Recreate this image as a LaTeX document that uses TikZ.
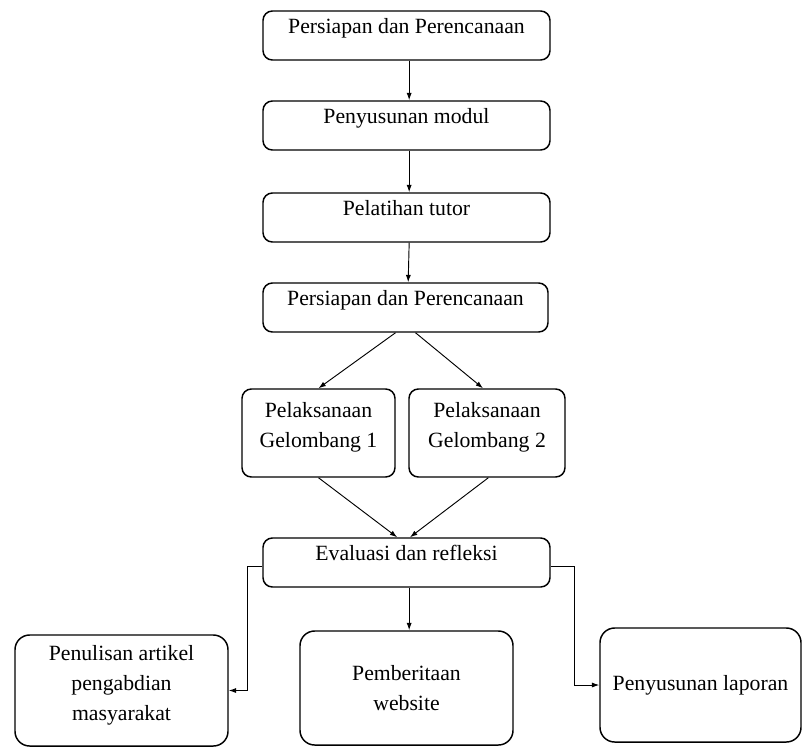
\documentclass[tikz,border=0pt]{standalone}
\usepackage{fontspec}
\setmainfont{Liberation Serif}
\usepackage{tikz}
\usetikzlibrary{shapes, arrows.meta, positioning}

% invisible depth, pushes a box text upwards
\newcommand{\sink}[1]{\rule[-#1]{0pt}{#1}}

\begin{document}
\begin{tikzpicture}[x=0.75pt, y=-0.75pt,
    tahap/.style={draw, line width=1.1pt, rounded corners=7pt, align=center, inner sep=0pt,
      font=\fontsize{16.3}{22.5}\selectfont},
    hasil/.style={tahap, rounded corners=11pt},
    panah/.style={-{Latex[length=5.5pt,width=3.8pt]}, line width=0.7pt}]
  \useasboundingbox (0,0) rectangle (802,747);

  \node[tahap, minimum width=215.25pt, minimum height=36.75pt] (b1) at (406.5,35.5) {Persiapan dan Perencanaan\sink{15pt}};
  \node[tahap, minimum width=215.25pt, minimum height=36.75pt] (b2) at (406.5,125.5) {Penyusunan modul\sink{15pt}};
  \node[tahap, minimum width=215.25pt, minimum height=36.75pt] (b3) at (406.5,217.5) {Pelatihan tutor\sink{15pt}};
  \node[tahap, minimum width=213.75pt, minimum height=36.75pt] (b4) at (405.5,307.5) {Persiapan dan Perencanaan\sink{15pt}};

  \node[tahap, minimum width=114.75pt, minimum height=66pt] (b5) at (318.5,433) {Pelaksanaan\\Gelombang 1\sink{12pt}};
  \node[tahap, minimum width=117pt, minimum height=66pt] (b6) at (487,433) {Pelaksanaan\\Gelombang 2\sink{12pt}};

  \node[tahap, minimum width=215.25pt, minimum height=36.75pt] (b7) at (406.5,562.5) {Evaluasi dan refleksi\sink{15pt}};

  \node[hasil, minimum width=159.75pt, minimum height=83.25pt] (b8) at (121.5,690.5) {Penulisan artikel\\pengabdian\\masyarakat\sink{12pt}};
  \node[hasil, minimum width=159.75pt, minimum height=85.5pt] (b9) at (406.5,688) {Pemberitaan\\website};
  \node[hasil, minimum width=150.75pt, minimum height=85.5pt] (b10) at (700.5,685) {Penyusunan laporan};

  % alur utama
  \foreach \a/\b in {b1/b2, b2/b3, b3/b4}
    \draw[panah] ([xshift=2pt]\a.south) -- ([xshift=2pt]\b.north);

  \draw[panah] ([xshift=-7.5pt]b4.south) -- (b5.north);
  \draw[panah] ([xshift=7.5pt]b4.south) -- ([xshift=-3pt]b6.north);
  \draw[panah] (b5.south) -- ([xshift=-7pt]b7.north);
  \draw[panah] ([xshift=1pt]b6.south) -- ([xshift=2.6pt]b7.north);

  % luaran
  \draw[panah] ([yshift=-2.6pt]b7.west) -- ++(-15,0) |- (b8.east);
  \draw[panah] ([xshift=2pt]b7.south) -- ([xshift=2pt]b9.north);
  \draw[panah] ([yshift=-2.6pt]b7.east) -- ++(24,0) |- (b10.west);
\end{tikzpicture}
\end{document}
